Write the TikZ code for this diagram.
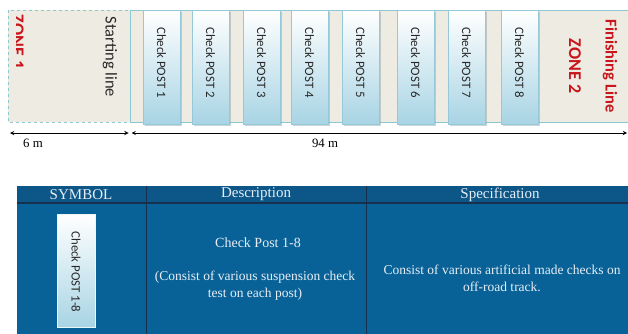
\documentclass[tikz,border=0pt]{standalone}
\usepackage{fontspec}
\setmainfont{Liberation Serif}
\newfontfamily\carlito{Carlito}
\definecolor{zonefill}{RGB}{238,236,226}
\definecolor{zoneline}{RGB}{140,200,212}
\definecolor{postblue}{RGB}{168,212,228}
\definecolor{postedge}{RGB}{150,200,218}
\definecolor{zonered}{RGB}{200,22,28}
\definecolor{tabbody}{RGB}{8,98,152}
\definecolor{tabhead}{RGB}{12,86,136}
\definecolor{tabline}{RGB}{22,48,78}
\definecolor{tabtext}{RGB}{232,238,244}
\definecolor{posttext}{RGB}{40,40,40}
\tikzset{
  post/.style={draw=postedge, line width=0.6pt, top color=white, bottom color=postblue, minimum width=37pt, inner sep=0pt},
  posttxt/.style={rotate=-90, font=\carlito\fontsize{12.8}{14}\selectfont, text=posttext},
  zonetxt/.style={rotate=-90, font=\carlito\bfseries\fontsize{16.5}{18}\selectfont, text=zonered},
  dim/.style={line width=0.9pt, stealth-stealth},
  dimtxt/.style={font=\fontsize{12.8}{14}\selectfont},
  headtxt/.style={font=\fontsize{15}{17}\selectfont, text=tabtext},
  bodytxt/.style={font=\fontsize{13.5}{17}\selectfont, text=tabtext, align=center}
}
\begin{document}
\begin{tikzpicture}[x=1pt,y=-1pt]
\useasboundingbox (0,0) rectangle (628,334);
% track region
\fill[zonefill] (130,10) rectangle (640,122);
\draw[zoneline, line width=0.8pt] (130,10) -- (640,10);
\draw[zoneline, line width=0.8pt] (130,122) -- (640,122);
% zone 1
\draw[zoneline, dashed, line width=0.8pt, fill=zonefill] (8,10) rectangle (130,122);
\draw[zoneline, line width=0.8pt] (130,10) -- (130,122);
\begin{scope}
  \clip (16.5,10) rectangle (40,122);
  \node[zonetxt, font=\carlito\bfseries\fontsize{18}{20}\selectfont, inner sep=0pt, anchor=north] (z1) at (24,42) {ZONE 1};
\end{scope}
\node[rotate=-90, font=\carlito\fontsize{16.5}{18}\selectfont, text=posttext] (start) at (110,57) {Starting line};
% posts
\foreach \i/\x in {1/143,2/192,3/243,4/291,5/342,6/397,7/448,8/501}{
  \fill[postedge!70!black, opacity=0.35] (\x+1.5,12) rectangle (\x+38.5,126);
  \node[post, minimum height=114pt, anchor=north west] (p\i) at (\x,10) {};
  \node[posttxt] (t\i) at (\x+18.5,62.5) {Check POST \i};
}
% zone 2
\node[zonetxt] (fin) at (610,66) {Finishing Line};
\node[zonetxt, font=\carlito\bfseries\fontsize{18}{20}\selectfont] (z2) at (575,66) {ZONE 2};
% dimensions
\coordinate (a0) at (10,133);
\coordinate (a1) at (128.5,133);
\coordinate (b0) at (131.5,133);
\coordinate (b1) at (627,133);
\draw[dim] (a0) -- (a1);
\draw[dim] (b0) -- (b1);
\node[dimtxt] (l6) at (33,143.5) {6 m};
\node[dimtxt] (l94) at (325,143.5) {94 m};
% table
\fill[tabbody] (17,203) rectangle (628,334);
\fill[tabhead] (17,186) rectangle (628,203);
\draw[tabline, line width=1.2pt] (17,203) -- (628,203);
\draw[tabline, line width=0.9pt] (146,186) -- (146,334);
\draw[tabline, line width=0.9pt] (366,186) -- (366,334);
\node[headtxt] (h1) at (81,194.5) {SYMBOL};
\node[headtxt] (h2) at (256,194.5) {Description};
\node[headtxt] (h3) at (500,194.5) {Specification};
\node[post, draw=white!80!postblue, minimum width=38pt, minimum height=113pt, anchor=north west] (sym) at (57,214) {};
\node[posttxt] (symt) at (76,272) {Check POST 1-8};
\node[bodytxt, font=\fontsize{14}{17}\selectfont] (d1) at (258,243) {Check Post 1-8};
\node[bodytxt] (d2) at (255,286) {(Consist of various suspension check\\test on each post)};
\node[bodytxt] (s1) at (502,278.5) {Consist of various artificial made checks on\\off-road track.};
\end{tikzpicture}
\end{document}
